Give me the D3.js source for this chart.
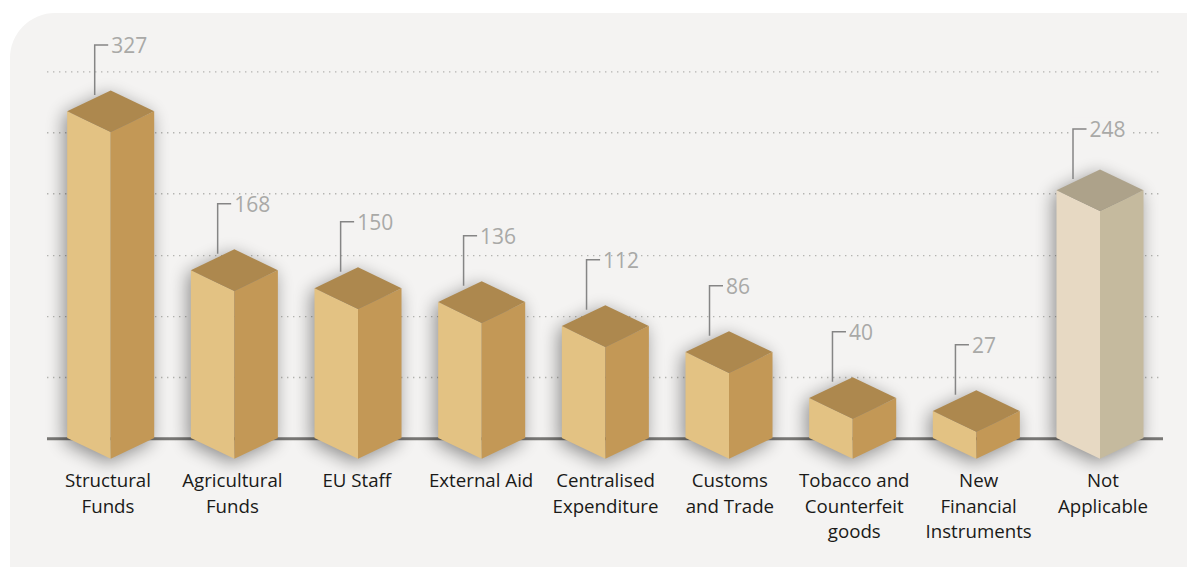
<!DOCTYPE html>
<html>
<head>
<meta charset="utf-8">
<script src="https://cdnjs.cloudflare.com/ajax/libs/d3/7.8.5/d3.min.js"></script>
<style>
  html, body { margin: 0; padding: 0; background: #fff; }
  svg { display: block; }
  text { font-family: "Open Sans", sans-serif; }
</style>
</head>
<body>
<script>
// values
var categories = [
  ['Structural', 'Funds'],
  ['Agricultural', 'Funds'],
  ['EU Staff'],
  ['External Aid'],
  ['Centralised', 'Expenditure'],
  ['Customs', 'and Trade'],
  ['Tobacco and', 'Counterfeit', 'goods'],
  ['New', 'Financial', 'Instruments'],
  ['Not', 'Applicable']
];
var values = [327, 168, 150, 136, 112, 86, 40, 27, 248];
var gridValues = [61, 122, 183, 245, 306, 367];

var width = 1187;
var height = 567;
var baseY = 438;
var halfW = 43.5;   // half width of a box
var halfD = 20.8;   // half depth of the top diamond
var last = values.length - 1;

var svg = d3.select('body').append('svg')
  .attr('width', width)
  .attr('height', height);

// soft shadow round the boxes
var blur = svg.append('defs').append('filter')
  .attr('id', 'blur')
  .attr('x', '-60%').attr('y', '-60%')
  .attr('width', '220%').attr('height', '220%');
blur.append('feGaussianBlur').attr('stdDeviation', 9);

// panel, only the top left corner is round
svg.append('path')
  .attr('d', 'M10,567V58A45,45 0 0 1 55,13H1187V567Z')
  .attr('fill', '#f4f3f2');

var x = d3.scalePoint()
  .domain(d3.range(categories.length))
  .range([110.7, 1100]);

// the category labels are spaced a little wider than the boxes
var labelX = d3.scalePoint()
  .domain(d3.range(categories.length))
  .range([108, 1103]);

var y = d3.scaleLinear()
  .domain([0, 327])
  .range([baseY, 111.3]);

// dotted grid
var gridAxis = d3.axisLeft(y)
  .tickValues(gridValues)
  .tickSize(-1113)
  .tickFormat('');
var grid = svg.append('g')
  .attr('transform', 'translate(47,0)')
  .call(gridAxis);
grid.select('.domain').remove();
grid.selectAll('line')
  .attr('stroke', '#b4b4b1')
  .attr('stroke-width', 1.4)
  .attr('stroke-dasharray', '1.4 4.6');

// baseline
svg.append('line')
  .attr('x1', 47).attr('x2', 1163)
  .attr('y1', y(0) + 0.7).attr('y2', y(0) + 0.7)
  .attr('stroke', '#787775')
  .attr('stroke-width', 3);

var colours = function(i) {
  // the last box is "Not Applicable", so it is paler
  return i === last
    ? { front: '#e7d9c3', side: '#c5ba9e', top: '#ada28a' }
    : { front: '#e3c283', side: '#c39856', top: '#ad884e' };
};

var bars = svg.selectAll('.bar')
  .data(values)
  .enter().append('g')
  .attr('class', 'bar');

// shadow falls left and down
bars.append('path')
  .attr('d', function(d, i) {
    var c = x(i), t = y(d);
    return 'M' + (c - halfW) + ',' + t + 'L' + c + ',' + (t - halfD) + 'L' + (c + halfW) + ',' + t +
      'V' + y(0) + 'L' + c + ',' + (y(0) + halfD) + 'L' + (c - halfW) + ',' + y(0) + 'Z';
  })
  .attr('transform', 'translate(-3,4)')
  .attr('fill', '#000')
  .attr('opacity', 0.42)
  .attr('filter', 'url(#blur)');

// front face
bars.append('path')
  .attr('d', function(d, i) {
    var c = x(i), t = y(d);
    return 'M' + (c - halfW) + ',' + t + 'L' + c + ',' + (t + halfD) + 'V' + (y(0) + halfD) + 'L' + (c - halfW) + ',' + y(0) + 'Z';
  })
  .attr('fill', function(d, i) { return colours(i).front; });

// side face
bars.append('path')
  .attr('d', function(d, i) {
    var c = x(i), t = y(d);
    return 'M' + c + ',' + (t + halfD) + 'L' + (c + halfW) + ',' + t + 'V' + y(0) + 'L' + c + ',' + (y(0) + halfD) + 'Z';
  })
  .attr('fill', function(d, i) { return colours(i).side; });

// top face
bars.append('path')
  .attr('d', function(d, i) {
    var c = x(i), t = y(d);
    return 'M' + (c - halfW) + ',' + t + 'L' + c + ',' + (t - halfD) + 'L' + (c + halfW) + ',' + t + 'L' + c + ',' + (t + halfD) + 'Z';
  })
  .attr('fill', function(d, i) { return colours(i).top; });

// leaders drift left of the box centre, the last one sits further out
function leaderX(i) {
  return i === last ? x(i) - 27 : x(i) - 16 - i * 0.7;
}
function leaderTop(d, i) {
  return y(d) - halfD - (i === last ? 40.5 : 45.5);
}

var notes = svg.selectAll('.note')
  .data(values)
  .enter().append('g')
  .attr('class', 'note');

// only 248 sits on a grid line, the grid is cut behind it
notes.filter(function(d, i) { return i === last; })
  .append('rect')
  .attr('x', function() { return leaderX(last) - 2; })
  .attr('y', function(d) { return leaderTop(d, last) - 11; })
  .attr('width', 58)
  .attr('height', 22)
  .attr('fill', '#f4f3f2');

notes.append('path')
  .attr('d', function(d, i) {
    var lx = leaderX(i), ty = leaderTop(d, i);
    return 'M' + lx + ',' + (y(d) - halfD + (i === last ? 9.5 : 4.5)) + 'V' + ty + 'H' + (lx + 13.5);
  })
  .attr('fill', 'none')
  .attr('stroke', '#858585')
  .attr('stroke-width', 1.5);

notes.append('text')
  .attr('x', function(d, i) { return leaderX(i) + 16.5; })
  .attr('y', function(d, i) { return leaderTop(d, i) + 8; })
  .attr('font-size', 21)
  .attr('fill', '#a9a9a7')
  .text(function(d) { return d; });

// category labels
var labels = svg.selectAll('.label')
  .data(categories)
  .enter().append('text')
  .attr('class', 'label')
  .attr('text-anchor', 'middle')
  .attr('font-size', 18.7)
  .attr('fill', '#1a1a18');

labels.selectAll('tspan')
  .data(function(d, i) { return d.map(function(line, k) { return { line: line, k: k, i: i }; }); })
  .enter().append('tspan')
  .attr('x', function(d) { return labelX(d.i); })
  .attr('y', function(d) { return 487.3 + d.k * 25.3; })
  .text(function(d) { return d.line; });
</script>
</body>
</html>
